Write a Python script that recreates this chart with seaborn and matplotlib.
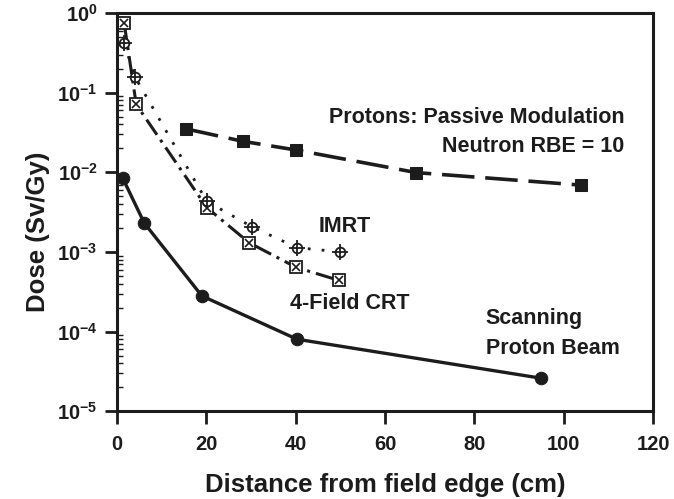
# Out-of-field dose versus distance from the field edge for several treatment techniques.

import math
import seaborn as sns
import matplotlib.pyplot as plt
from matplotlib.ticker import FixedLocator, LogLocator, FuncFormatter, NullFormatter, NullLocator


# Scanning proton beam (solid line, filled circles).
scan_x = [1.3, 6.1, 19.0, 40.3, 94.8]
scan_y = [8.4e-3, 2.3e-3, 2.8e-4, 8.0e-5, 2.6e-5]

# Passive modulation protons, neutron RBE = 10 (long dashes, filled squares).
passive_x = [15.5, 28.1, 40.1, 67.0, 103.8]
passive_y = [3.5e-2, 2.45e-2, 1.9e-2, 9.9e-3, 6.9e-3]

# 4-field conformal RT (dash-dot, crossed squares).
crt_x = [1.6, 4.3, 20.1, 29.6, 40.1, 49.6]
crt_y = [0.75, 7.1e-2, 3.6e-3, 1.3e-3, 6.4e-4, 4.4e-4]

# IMRT (dotted, crossed circles).
imrt_x = [1.6, 4.0, 20.1, 30.2, 40.3, 50.0]
imrt_y = [0.42, 0.158, 4.3e-3, 2.07e-3, 1.13e-3, 1.0e-3]

x_ticks = [0, 20, 40, 60, 80, 100, 120]
y_exponents = [0, -1, -2, -3, -4, -5]

ink = "#1c1c1c"

sns.set_theme(style="ticks")
plt.rcParams["font.family"] = ["Liberation Sans", "DejaVu Sans"]
plt.rcParams["font.weight"] = "bold"
plt.rcParams["mathtext.fontset"] = "custom"
plt.rcParams["mathtext.rm"] = "Liberation Sans:bold"
plt.rcParams["mathtext.bf"] = "Liberation Sans:bold"
plt.rcParams["mathtext.default"] = "bf"

fig = plt.figure(figsize=(6.74, 4.99), dpi=100)
ax = fig.add_axes([0.1736, 0.176, 0.7955, 0.798])

# Scanning proton beam.
sns.lineplot(x=scan_x, y=scan_y, ax=ax, color=ink, lw=2.4, marker="o",
             markersize=9, markerfacecolor=ink, markeredgecolor=ink, sort=False)

# Passive modulation.
sns.lineplot(x=passive_x, y=passive_y, ax=ax, color=ink, lw=2.6, linestyle=(0, (9, 3)),
             marker="s", markersize=9, markerfacecolor=ink, markeredgecolor=ink, sort=False)

# 4-field CRT: line with open squares, then the crosses on top.
sns.lineplot(x=crt_x, y=crt_y, ax=ax, color=ink, lw=2.2, linestyle=(0, (6, 2, 1, 2)),
             marker="s", markersize=8.5, markerfacecolor="white", markeredgecolor=ink,
             markeredgewidth=1.3, sort=False)
sns.lineplot(x=crt_x, y=crt_y, ax=ax, color=ink, linestyle="none", marker="x",
             markersize=6, markeredgewidth=1.2, markeredgecolor=ink, sort=False)

# IMRT: dotted line with open circles, then a crosshair on top.
sns.lineplot(x=imrt_x, y=imrt_y, ax=ax, color=ink, lw=2.0, linestyle=(0, (1, 4)),
             marker="o", markersize=7, markerfacecolor="white", markeredgecolor=ink,
             markeredgewidth=1.3, sort=False)
sns.lineplot(x=imrt_x, y=imrt_y, ax=ax, color=ink, linestyle="none", marker="+",
             markersize=11, markeredgewidth=1.3, markeredgecolor=ink, sort=False)

ax.set_yscale("log")
ax.set_xlim(0, 120)
ax.set_ylim(1e-5, 1)

ax.xaxis.set_major_locator(FixedLocator(x_ticks))
ax.xaxis.set_minor_locator(NullLocator())
ax.yaxis.set_major_locator(FixedLocator([10.0 ** e for e in y_exponents]))
ax.yaxis.set_minor_locator(LogLocator(base=10, subs=range(2, 10)))
ax.yaxis.set_minor_formatter(NullFormatter())
ax.yaxis.set_major_formatter(FuncFormatter(lambda v, pos: r"$\mathbf{10^{%d}}$" % round(math.log10(v))))

ax.tick_params(axis="both", which="major", direction="out", length=9, width=2,
               color=ink, labelsize=14.5, labelcolor=ink, pad=5)
ax.tick_params(axis="x", which="major", pad=8)
ax.tick_params(axis="y", which="minor", direction="in", length=4, width=1, color=ink)
ax.tick_params(top=False, right=False, which="both")

for s in ax.spines.values():
    s.set_linewidth(2.2)
    s.set_color(ink)

for lab in ax.get_xticklabels():
    lab.set_fontweight("bold")

ax.set_xlabel("Distance from field edge (cm)", fontsize=18.5, fontweight="bold",
              color=ink, labelpad=14)
ax.set_ylabel("Dose (Sv/Gy)", fontsize=18.5, fontweight="bold", color=ink)
ax.yaxis.set_label_coords(-0.125, 0.45)

txt = dict(fontsize=15.5, fontweight="bold", color=ink, va="center")
ax.text(113.5, 0.0493, "Protons: Passive Modulation", ha="right", **txt)
ax.text(113.5, 0.0213, "Neutron RBE = 10", ha="right", **txt)
ax.text(45.1, 2.11e-3, "IMRT", ha="left", **txt)
ax.text(38.8, 2.27e-4, "4-Field CRT", ha="left", **txt)
ax.text(82.5, 1.47e-4, "Scanning", ha="left", **txt)
ax.text(82.5, 6.18e-5, "Proton Beam", ha="left", **txt)

plt.savefig("out.png", dpi=100)
